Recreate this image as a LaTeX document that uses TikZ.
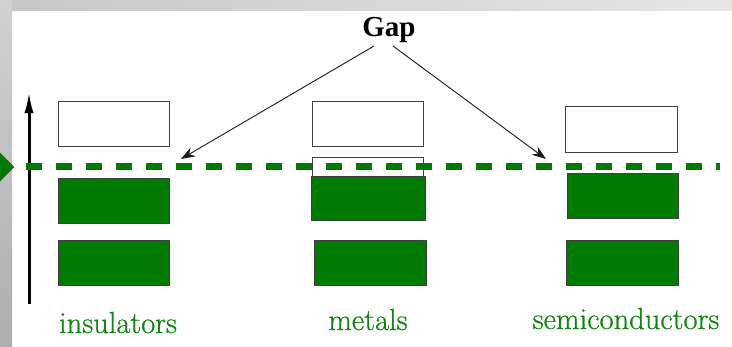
\documentclass[tikz,border=0pt]{standalone}
\usepackage{fontspec}
\newfontfamily\gapfont{Liberation Serif}
\newfontfamily\labfont[FakeBold=0.6]{Latin Modern Roman}
\usetikzlibrary{arrows.meta}
\definecolor{bandgreen}{HTML}{007A00}
\definecolor{labgreen}{HTML}{0E870E}
\tikzset{
  band/.style={draw=black!75, line width=0.9pt, inner sep=0pt, anchor=north west,
    minimum width=111pt, minimum height=45pt},
  emptyband/.style={band, fill=white},
  fullband/.style={band, fill=bandgreen},
  lab/.style={text=labgreen, font=\labfont\fontsize{30.5}{33}\selectfont, inner sep=0pt, anchor=base},
  gaparrow/.style={draw=black!90, line width=0.9pt, -{Stealth[length=14pt,width=10pt]}},
  level/.style={draw=bandgreen, line width=7pt, dash pattern=on 16pt off 14pt}
}
\begin{document}
\begin{tikzpicture}[x=1pt,y=-1pt]
\useasboundingbox (0,0) rectangle (732,346);
\fill[white] (0,0) rectangle (732,346);
\shade[left color=black!22, right color=black!10] (0,0) rectangle (732,10);
\shade[top color=black!18, bottom color=black!32] (0,0) rectangle (12,346);
% diamond marker
\fill[bandgreen, draw=black!70, line width=0.6pt] (-14,167) -- (0,153) -- (14,167) -- (0,181) -- cycle;
% energy axis
\coordinate (axb) at (29,304);
\coordinate (axt) at (29,91);
\draw[line width=3pt, -{Latex[length=22pt,width=9pt]}] (axb) -- (axt);
% insulators
\node[emptyband] (i1) at (58,101) {};
\node[fullband] (i2) at (58,178) {};
\node[fullband] (i3) at (58,240) {};
% metals
\node[emptyband] (m1) at (312,101) {};
\node[emptyband, minimum height=19pt] (m2) at (312,157) {};
\node[fullband, minimum width=114pt, minimum height=44pt] (m3) at (311,176) {};
\node[fullband, minimum width=112pt] (m4) at (314,240) {};
% semiconductors
\node[emptyband, minimum width=112pt, minimum height=46pt] (s1) at (565,106) {};
\node[fullband, minimum width=111pt] (s2) at (567,173) {};
\node[fullband, minimum width=112pt] (s3) at (566,240) {};
% Fermi level
\coordinate (fl) at (26,166.5);
\coordinate (fr) at (720,166.5);
\draw[level] (fl) -- (fr);
% labels
\node[lab] (li) at (118,333) {insulators};
\node[lab] (lm) at (368,330) {metals};
\node[lab] (ls) at (626,329) {semiconductors};
% Gap
\node[font=\gapfont\bfseries\fontsize{29}{32}\selectfont, inner sep=0pt, anchor=base] (gap) at (389,36) {Gap};
\coordinate (g1) at (374,46);
\coordinate (g2) at (393,46);
\coordinate (t1) at (181,159);
\coordinate (t2) at (546,159);
\draw[gaparrow] (g1) -- (t1);
\draw[gaparrow] (g2) -- (t2);
\end{tikzpicture}
\end{document}
